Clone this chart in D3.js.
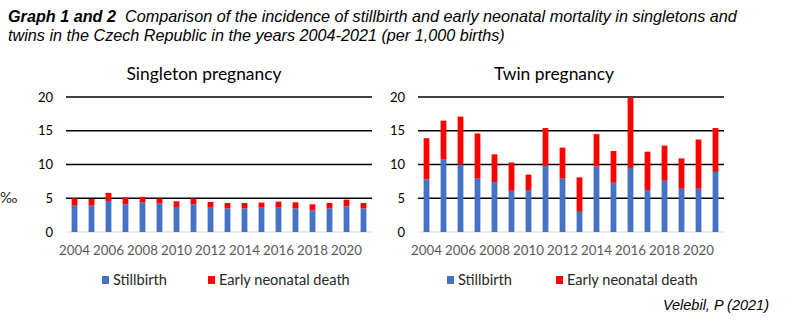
<!DOCTYPE html>
<html>
<head>
<meta charset="utf-8">
<script src="https://cdn.jsdelivr.net/npm/d3@7"></script>
<style>
    body { margin: 0; background: #fff; }
    svg { display: block; }
</style>
</head>
<body>
<svg id="chart"></svg>
<script>
const width = 800;
const height = 325;

const years = d3.range(2004, 2022);
const yTicks = [0, 5, 10, 15, 20];
const xTickYears = [2004, 2006, 2008, 2010, 2012, 2014, 2016, 2018, 2020];

// per 1,000 births
const singleStillbirth = [3.9, 3.9, 4.6, 4.1, 4.4, 4.2, 3.7, 4.1, 3.6, 3.5, 3.5, 3.6, 3.6, 3.5, 3.2, 3.5, 3.8, 3.5];
const singleNeonatal = [1.1, 1.0, 1.2, 1.0, 0.8, 0.75, 0.85, 0.85, 0.85, 0.8, 0.8, 0.75, 0.9, 0.9, 0.9, 0.8, 1.0, 0.8];
const twinStillbirth = [7.8, 10.8, 10.0, 7.9, 7.4, 6.1, 6.2, 9.8, 7.9, 3.0, 9.7, 7.3, 9.5, 6.2, 7.6, 6.4, 6.4, 8.9];
const twinNeonatal = [6.1, 5.7, 7.1, 6.7, 4.1, 4.2, 2.3, 5.6, 4.6, 5.1, 4.8, 4.7, 10.5, 5.7, 5.2, 4.5, 7.3, 6.5];

const seriesNames = ['Stillbirth', 'Early neonatal death'];
const colors = ['#4472C4', '#FF0000'];

const svg = d3.select('#chart')
    .attr('width', width)
    .attr('height', height);

svg.append('rect').attr('width', width).attr('height', height).attr('fill', '#fff');

// heading, two lines
const headFont = '"Liberation Sans Narrow", "Liberation Sans", sans-serif';
const heading = svg.append('text')
    .attr('x', 8)
    .attr('y', 22)
    .style('font-family', headFont)
    .style('font-size', '16.2px')
    .style('font-style', 'italic');
heading.append('tspan').style('font-weight', 'bold').text('Graph 1 and 2');
heading.append('tspan').text('\u00a0\u00a0Comparison of the incidence of stillbirth and early neonatal mortality in singletons and');
svg.append('text')
    .attr('x', 8)
    .attr('y', 41)
    .style('font-family', headFont)
    .style('font-size', '16.2px')
    .style('font-style', 'italic')
    .text('twins in the Czech Republic in the years 2004-2021 (per 1,000 births)');

svg.append('text')
    .attr('x', 0)
    .attr('y', 203)
    .style('font-family', 'Lato, sans-serif')
    .style('font-size', '15px')
    .attr('fill', '#262626')
    .text('\u2030');

const y = d3.scaleLinear().domain([0, 20]).range([232, 97]);

function drawPanel(opts) {
    const g = svg.append('g');
    const x = d3.scaleBand()
        .domain(years)
        .range([opts.x0, opts.x1])
        .paddingInner(0.66)
        .paddingOuter(0.33);

    g.append('text')
        .attr('x', opts.titleX)
        .attr('y', 80)
        .attr('text-anchor', 'middle')
        .style('font-family', 'Lato, sans-serif')
        .style('font-size', '17.4px')
        .attr('fill', '#000')
        .text(opts.title);

    // horizontal grid
    g.selectAll('.grid').data(yTicks).enter().append('line')
        .attr('x1', opts.x0)
        .attr('x2', opts.x1)
        .attr('y1', d => y(d))
        .attr('y2', d => y(d))
        .attr('stroke', d => d === 0 ? '#d9d9d9' : '#000')
        .attr('stroke-width', d => d === 0 ? 1 : 1.4);

    g.selectAll('.ylab').data(yTicks).enter().append('text')
        .attr('x', opts.x0 - 13)
        .attr('y', d => y(d))
        .attr('dy', '0.35em')
        .attr('text-anchor', 'end')
        .style('font-family', 'Lato, sans-serif')
        .style('font-size', '13px')
        .attr('fill', '#000')
        .text(d => d);

    const rows = years.map((yr, i) => ({year: yr, a: opts.still[i], b: opts.neo[i]}));

    g.selectAll('.still').data(rows).enter().append('rect')
        .attr('x', d => x(d.year))
        .attr('width', x.bandwidth())
        .attr('y', d => y(d.a))
        .attr('height', d => y(0) - y(d.a))
        .attr('fill', colors[0]);

    g.selectAll('.neo').data(rows).enter().append('rect')
        .attr('x', d => x(d.year))
        .attr('width', x.bandwidth())
        .attr('y', d => y(d.a + d.b))
        .attr('height', d => y(d.a) - y(d.a + d.b))
        .attr('fill', colors[1]);

    g.selectAll('.xlab').data(xTickYears).enter().append('text')
        .attr('x', d => x(d) + x.bandwidth() / 2)
        .attr('y', 255)
        .attr('text-anchor', 'middle')
        .style('font-family', 'Lato, sans-serif')
        .style('font-size', '13.3px')
        .attr('fill', '#595959')
        .text(d => d);

    // legend
    const legend = g.selectAll('.leg').data(seriesNames).enter().append('g')
        .attr('transform', (d, i) => `translate(${opts.legendX[i]}, 280)`);
    legend.append('rect')
        .attr('x', 0)
        .attr('y', -4)
        .attr('width', 7)
        .attr('height', 8)
        .attr('fill', (d, i) => colors[i]);
    legend.append('text')
        .attr('x', 11)
        .attr('dy', '0.35em')
        .style('font-family', 'Lato, sans-serif')
        .style('font-size', '14.6px')
        .attr('fill', '#262626')
        .text(d => d);
}

drawPanel({
    title: 'Singleton pregnancy', titleX: 204,
    x0: 66, x1: 372,
    still: singleStillbirth, neo: singleNeonatal,
    legendX: [102, 208]
});

drawPanel({
    title: 'Twin pregnancy', titleX: 554,
    x0: 418, x1: 724,
    still: twinStillbirth, neo: twinNeonatal,
    legendX: [447, 556]
});

svg.append('text')
    .attr('x', 769)
    .attr('y', 310)
    .attr('text-anchor', 'end')
    .style('font-family', '"Liberation Sans", Arial, sans-serif')
    .style('font-size', '14.5px')
    .style('font-style', 'italic')
    .text('Velebil, P (2021)');
</script>
</body>
</html>
